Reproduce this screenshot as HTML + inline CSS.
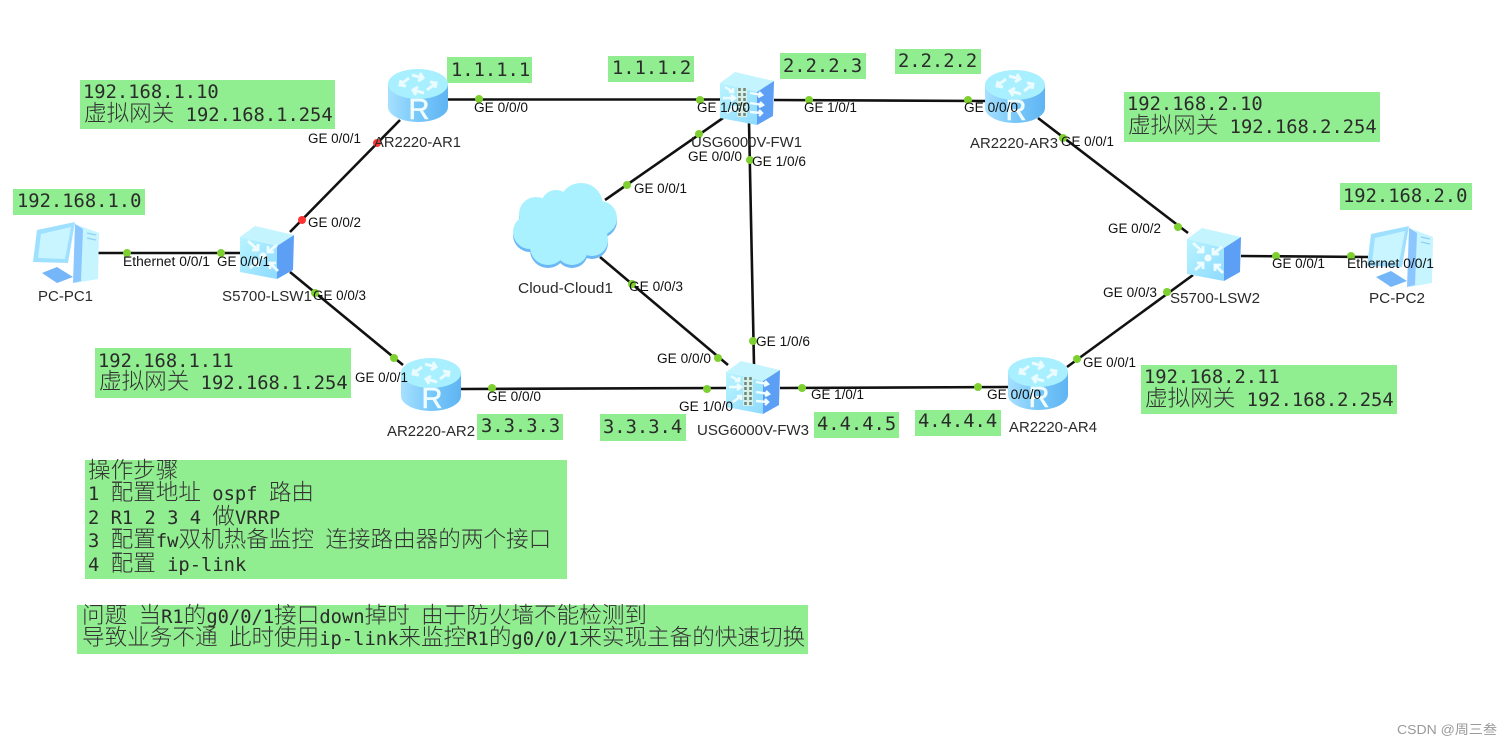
<!DOCTYPE html>
<html><head><meta charset="utf-8"><style>
html,body{margin:0;padding:0;background:#fff;width:1512px;height:746px;overflow:hidden}
svg{display:block;filter:blur(.3px)}
.p{font:13.5px "Liberation Sans",sans-serif;fill:#111}
.n{font:14.5px "Liberation Sans",sans-serif;fill:#2a2a2a}
.m{font:18.8px "DejaVu Sans Mono","Noto Sans CJK SC",monospace;fill:#2b2b2b}
.c{font:22.6px "Noto Sans CJK SC",sans-serif;font-weight:300;fill:#333}
.b{fill:#90ee90}
.l{stroke:#111;stroke-width:2.6;fill:none}
.g{fill:#7ed030}.r{fill:#ff3333}
</style></head><body>
<svg width="1512" height="746" viewBox="0 0 1512 746" xmlns="http://www.w3.org/2000/svg">
<defs>
<linearGradient id="rb" x1="0" x2="1" y1="0" y2="0"><stop offset="0" stop-color="#a6e0ff"/><stop offset=".5" stop-color="#78c8fa"/><stop offset="1" stop-color="#5fb4f2"/></linearGradient>
<linearGradient id="sf" x1="0" x2="1" y1="0" y2="1"><stop offset="0" stop-color="#b8f4ff"/><stop offset="1" stop-color="#8edaff"/></linearGradient>
<symbol id="router" viewBox="0 0 60 53" overflow="visible">
<path d="M0 15V38C0 46 13 53 30 53S60 46 60 38V15Z" fill="url(#rb)"/>
<ellipse cx="30" cy="15" rx="30" ry="15" fill="#a8efff"/>
<g stroke="#eafcff" stroke-width="3" fill="none"><path d="M12 16l9-7M12 16h-0M13 11l-1 5 6 1M48 14l-9 7M47 19l1-5-6-1M24 6l11 3M32 4l3 5-5 3M36 24l-11-3M28 26l-3-5 5-3"/></g>
<text x="31" y="50" text-anchor="middle" style="font:29px 'Liberation Sans',sans-serif;fill:#f0fdff;stroke:#f0fdff;stroke-width:.6">R</text>
</symbol>
<symbol id="cube" viewBox="0 0 56 55" overflow="visible">
<polygon points="1,12 16,1 55,10 38,21" fill="#c4f5ff"/>
<polygon points="1,12 38,21 38,54 1,47" fill="url(#sf)"/>
<polygon points="38,21 55,10 54,45 38,54" fill="#5c9ff5"/>
</symbol>
<symbol id="pc" viewBox="0 0 66 62" overflow="visible">
<polygon points="42,3 66,12 65,58 42,62" fill="#c6f4ff"/>
<polygon points="42,3 50,8 48,60 40,62" fill="#8cc6ff"/>
<polygon points="4,9 42,1 35,42 0,41" fill="#9fe0ff"/>
<polygon points="8,13 38,6 32,38 5,37" fill="#c8f5ff"/>
<polygon points="9,52 24,46 40,56 24,62" fill="#74b6f8"/>
<g stroke="#8fd0f5" stroke-width="1.2"><path d="M54 12l9 2M54 17l9 2"/></g>
</symbol>
<g id="swg" stroke="#f0fdff" stroke-width="2.8" fill="none">
<path d="M1193 243l10 9M1203 246v6h-6M1222 247l-9 7M1213 248v6h6M1195 270l8-7M1203 269v-6h-6M1223 273l-8-8M1215 271v-6h6"/>
<circle cx="1208" cy="258" r="3.6" fill="#f0fdff" stroke="none"/>
</g>
<g id="fwg">
<g stroke="#f0fdff" stroke-width="2.4" fill="none">
<path d="M725 87l8 5M729 92h4v-4M723 98h12M731 95l4 3-4 3M727 113l8-6M731 107h4v4M750 93l12 2M759 92l3 3-4 2M750 103l13 2M760 102l3 3-4 2M750 112l12 1M759 110l3 3-3 3"/>
</g>
<rect x="737" y="88" width="10" height="29" fill="#d7efe6"/>
<path d="M739.5 88V117M744.5 88V117" stroke="#6f8a7c" stroke-width="2.6" stroke-dasharray="3 2" fill="none"/>
</g>
</defs>

<!-- green boxes -->
<rect class="b" x="80" y="80" width="255" height="49"/>
<rect class="b" x="13" y="189" width="132" height="26"/>
<rect class="b" x="447" y="57" width="85" height="26"/>
<rect class="b" x="608" y="56" width="86" height="26"/>
<rect class="b" x="780" y="53" width="86" height="26"/>
<rect class="b" x="895" y="49" width="86" height="25"/>
<rect class="b" x="1124" y="92" width="256" height="50"/>
<rect class="b" x="1340" y="183" width="132" height="27"/>
<rect class="b" x="1141" y="365" width="256" height="49"/>
<rect class="b" x="95" y="348" width="256" height="50"/>
<rect class="b" x="477" y="414" width="86" height="26"/>
<rect class="b" x="600" y="414" width="86" height="27"/>
<rect class="b" x="814" y="412" width="85" height="26"/>
<rect class="b" x="915" y="410" width="86" height="26"/>
<rect class="b" x="85" y="460" width="482" height="119"/>
<rect class="b" x="77" y="605" width="731" height="49"/>

<!-- links -->
<g class="l">
<path d="M400 120L290 232"/>
<path d="M98 253H240"/>
<path d="M290 272L403 365"/>
<path d="M448 99.5H720"/>
<path d="M774 100L985 101"/>
<path d="M723 118L605 200"/>
<path d="M600 257L728 365"/>
<path d="M749 122L754 365"/>
<path d="M461 389L726 388"/>
<path d="M780 388L1008 387"/>
<path d="M1038 118L1188 233"/>
<path d="M1193 275L1067 367"/>
<path d="M1241 256L1368 257"/>
</g>

<!-- cloud -->
<g fill="#6cb8f5" transform="translate(0,3)">
<circle cx="536" cy="214" r="17"/><circle cx="556" cy="205" r="15"/><circle cx="581" cy="205" r="22"/><circle cx="600" cy="218" r="17"/><circle cx="530" cy="232" r="17"/><circle cx="548" cy="247" r="18"/><circle cx="572" cy="249" r="16"/><circle cx="592" cy="240" r="16"/><ellipse cx="565" cy="226" rx="44" ry="30"/>
</g>
<g fill="#a9f1ff">
<circle cx="536" cy="214" r="17"/><circle cx="556" cy="205" r="15"/><circle cx="581" cy="205" r="22"/><circle cx="600" cy="218" r="17"/><circle cx="530" cy="232" r="17"/><circle cx="548" cy="247" r="18"/><circle cx="572" cy="249" r="16"/><circle cx="592" cy="240" r="16"/><ellipse cx="565" cy="226" rx="44" ry="30"/>
</g>

<!-- devices -->
<use href="#router" x="388" y="69" width="60" height="53"/>
<use href="#router" x="401" y="358" width="60" height="53"/>
<use href="#router" x="985" y="70" width="60" height="53"/>
<use href="#router" x="1008" y="357" width="60" height="53"/>
<use href="#cube" x="239" y="225" width="56" height="55"/>
<use href="#cube" x="1186" y="227" width="56" height="55"/>
<use href="#cube" x="719" y="71" width="56" height="55"/>
<use href="#cube" x="725" y="360" width="56" height="55"/>
<use href="#pc" x="33" y="221" width="66" height="62"/>
<use href="#pc" x="1367" y="225" width="66" height="62"/>

<!-- switch and firewall glyphs -->
<use href="#swg"/>
<use href="#swg" transform="translate(-945,-2)"/>
<use href="#fwg"/>
<use href="#fwg" transform="translate(6,289)"/>

<!-- ports -->
<g class="g">
<circle cx="127" cy="253" r="4"/><circle cx="221" cy="253" r="4"/><circle cx="315" cy="293" r="4"/><circle cx="394" cy="358" r="4"/><circle cx="492" cy="388" r="4"/><circle cx="479" cy="99" r="4"/><circle cx="700" cy="100" r="4"/><circle cx="809" cy="100" r="4"/><circle cx="968" cy="100" r="4"/><circle cx="627" cy="185" r="4"/><circle cx="699" cy="134" r="4"/><circle cx="750" cy="160" r="4"/><circle cx="632" cy="284" r="4"/><circle cx="753" cy="341" r="4"/><circle cx="718" cy="358" r="4"/><circle cx="707" cy="389" r="4"/><circle cx="802" cy="388" r="4"/><circle cx="978" cy="387" r="4"/><circle cx="1063" cy="138" r="4"/><circle cx="1178" cy="227" r="4"/><circle cx="1167" cy="292" r="4"/><circle cx="1077" cy="359" r="4"/><circle cx="1276" cy="256" r="4"/><circle cx="1351" cy="256" r="4"/>
</g>
<circle class="r" cx="377" cy="143" r="4"/><circle class="r" cx="302" cy="220" r="4"/>

<!-- port labels -->
<g class="p">
<text x="308" y="143" textLength="53" lengthAdjust="spacingAndGlyphs">GE 0/0/1</text>
<text x="308" y="227" textLength="53" lengthAdjust="spacingAndGlyphs">GE 0/0/2</text>
<text x="123" y="266" textLength="87" lengthAdjust="spacingAndGlyphs">Ethernet 0/0/1</text>
<text x="217" y="266" textLength="53" lengthAdjust="spacingAndGlyphs">GE 0/0/1</text>
<text x="313" y="300" textLength="53" lengthAdjust="spacingAndGlyphs">GE 0/0/3</text>
<text x="474" y="112" textLength="54" lengthAdjust="spacingAndGlyphs">GE 0/0/0</text>
<text x="697" y="112" textLength="53" lengthAdjust="spacingAndGlyphs">GE 1/0/0</text>
<text x="804" y="112" textLength="53" lengthAdjust="spacingAndGlyphs">GE 1/0/1</text>
<text x="964" y="112" textLength="54" lengthAdjust="spacingAndGlyphs">GE 0/0/0</text>
<text x="688" y="161" textLength="54" lengthAdjust="spacingAndGlyphs">GE 0/0/0</text>
<text x="752" y="166" textLength="54" lengthAdjust="spacingAndGlyphs">GE 1/0/6</text>
<text x="634" y="193" textLength="53" lengthAdjust="spacingAndGlyphs">GE 0/0/1</text>
<text x="629" y="291" textLength="54" lengthAdjust="spacingAndGlyphs">GE 0/0/3</text>
<text x="756" y="346" textLength="54" lengthAdjust="spacingAndGlyphs">GE 1/0/6</text>
<text x="657" y="363" textLength="54" lengthAdjust="spacingAndGlyphs">GE 0/0/0</text>
<text x="679" y="411" textLength="54" lengthAdjust="spacingAndGlyphs">GE 1/0/0</text>
<text x="811" y="399" textLength="53" lengthAdjust="spacingAndGlyphs">GE 1/0/1</text>
<text x="987" y="399" textLength="54" lengthAdjust="spacingAndGlyphs">GE 0/0/0</text>
<text x="487" y="401" textLength="54" lengthAdjust="spacingAndGlyphs">GE 0/0/0</text>
<text x="355" y="382" textLength="53" lengthAdjust="spacingAndGlyphs">GE 0/0/1</text>
<text x="1061" y="146" textLength="53" lengthAdjust="spacingAndGlyphs">GE 0/0/1</text>
<text x="1108" y="233" textLength="53" lengthAdjust="spacingAndGlyphs">GE 0/0/2</text>
<text x="1103" y="297" textLength="54" lengthAdjust="spacingAndGlyphs">GE 0/0/3</text>
<text x="1083" y="367" textLength="53" lengthAdjust="spacingAndGlyphs">GE 0/0/1</text>
<text x="1272" y="268" textLength="53" lengthAdjust="spacingAndGlyphs">GE 0/0/1</text>
<text x="1347" y="268" textLength="87" lengthAdjust="spacingAndGlyphs">Ethernet 0/0/1</text>
</g>

<!-- node labels -->
<g class="n">
<text x="374" y="147" textLength="87" lengthAdjust="spacingAndGlyphs">AR2220-AR1</text>
<text x="38" y="301" textLength="55" lengthAdjust="spacingAndGlyphs">PC-PC1</text>
<text x="222" y="301" textLength="90" lengthAdjust="spacingAndGlyphs">S5700-LSW1</text>
<text x="691" y="147" textLength="111" lengthAdjust="spacingAndGlyphs">USG6000V-FW1</text>
<text x="970" y="148" textLength="88" lengthAdjust="spacingAndGlyphs">AR2220-AR3</text>
<text x="518" y="293" textLength="95" lengthAdjust="spacingAndGlyphs">Cloud-Cloud1</text>
<text x="697" y="435" textLength="112" lengthAdjust="spacingAndGlyphs">USG6000V-FW3</text>
<text x="387" y="436" textLength="88" lengthAdjust="spacingAndGlyphs">AR2220-AR2</text>
<text x="1009" y="432" textLength="88" lengthAdjust="spacingAndGlyphs">AR2220-AR4</text>
<text x="1170" y="303" textLength="90" lengthAdjust="spacingAndGlyphs">S5700-LSW2</text>
<text x="1369" y="303" textLength="56" lengthAdjust="spacingAndGlyphs">PC-PC2</text>
</g>

<!-- note text -->
<g class="m" xml:space="preserve">
<text x="83" y="98">192.168.1.10</text>
<text x="84" y="121"><tspan class="c">虚拟网关</tspan> 192.168.1.254</text>
<text x="17" y="207">192.168.1.0</text>
<text x="451" y="76">1.1.1.1</text>
<text x="612" y="74">1.1.1.2</text>
<text x="783" y="72">2.2.2.3</text>
<text x="898" y="67">2.2.2.2</text>
<text x="1127" y="110">192.168.2.10</text>
<text x="1128" y="133"><tspan class="c">虚拟网关</tspan> 192.168.2.254</text>
<text x="1343" y="202">192.168.2.0</text>
<text x="1144" y="383">192.168.2.11</text>
<text x="1145" y="406"><tspan class="c">虚拟网关</tspan> 192.168.2.254</text>
<text x="98" y="367">192.168.1.11</text>
<text x="99" y="389"><tspan class="c">虚拟网关</tspan> 192.168.1.254</text>
<text x="481" y="432">3.3.3.3</text>
<text x="603" y="433">3.3.3.4</text>
<text x="817" y="430">4.4.4.5</text>
<text x="918" y="427">4.4.4.4</text>
<text x="88" y="478"><tspan class="c">操作步骤</tspan></text>
<text x="88" y="500">1 <tspan class="c">配置地址</tspan> ospf <tspan class="c">路由</tspan></text>
<text x="88" y="524">2 R1 2 3 4 <tspan class="c">做</tspan>VRRP</text>
<text x="88" y="547">3 <tspan class="c">配置</tspan>fw<tspan class="c">双机热备监控</tspan> <tspan class="c">连接路由器的两个接口</tspan></text>
<text x="88" y="571">4 <tspan class="c">配置</tspan> ip-link</text>
<text x="82" y="623"><tspan class="c">问题</tspan> <tspan class="c">当</tspan>R1<tspan class="c">的</tspan>g0/0/1<tspan class="c">接口</tspan>down<tspan class="c">掉时</tspan> <tspan class="c">由于防火墙不能检测到</tspan></text>
<text x="82" y="645"><tspan class="c">导致业务不通</tspan> <tspan class="c">此时使用</tspan>ip-link<tspan class="c">来监控</tspan>R1<tspan class="c">的</tspan>g0/0/1<tspan class="c">来实现主备的快速切换</tspan></text>
</g>

<text x="1397" y="734" textLength="100" lengthAdjust="spacingAndGlyphs" style="font:13px 'Liberation Sans','Noto Sans CJK SC',sans-serif;fill:#999">CSDN @周三叁</text>
</svg>
</body></html>
